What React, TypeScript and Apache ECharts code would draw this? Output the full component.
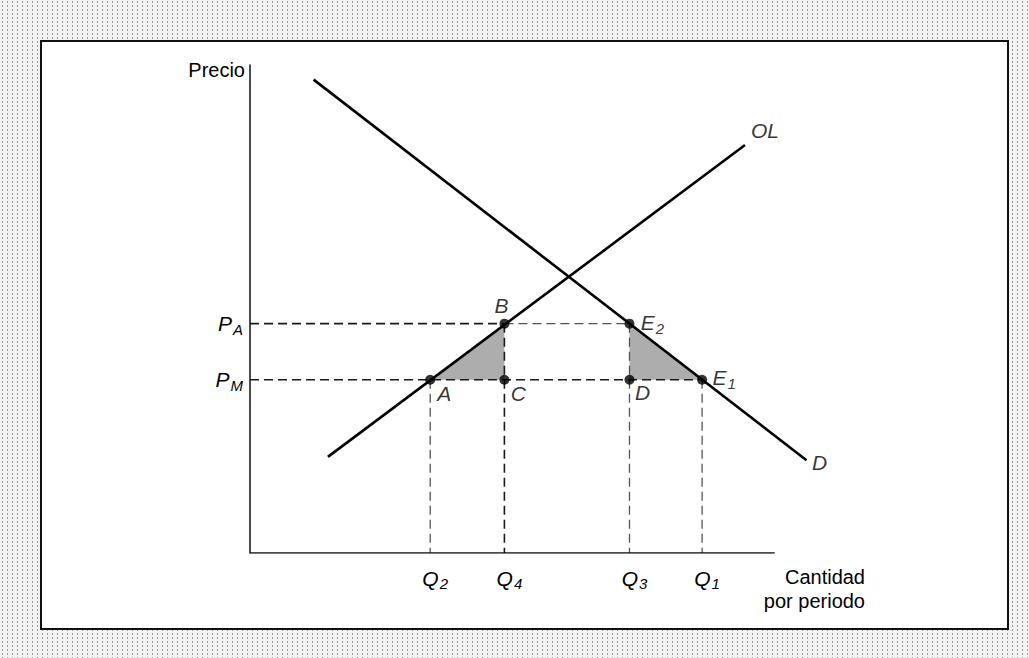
import { useEffect, useRef } from "react";
import * as echarts from "echarts";

// Quantity ticks (Q2, Q4, Q3, Q1) and price ticks (PM, PA)
const quantityTicks = [34, 48, 71.6, 85.3];
const quantitySubs = ["2", "4", "3", "1"];
const priceTicks = [35.5, 47];
const priceSubs = ["M", "A"];

// Curves
const demandCurve = [
  [12, 97],
  [105, 19],
];
const supplyCurve = [
  [14.7, 19.7],
  [93.4, 83.6],
];
const quantityAxisLine = [
  [0, 0],
  [99, 0],
];

// Marked points
const pointNames = ["A", "B", "C", "D", "E2", "E1"];
const pointQ = [34, 48, 48, 71.6, 71.6, 85.3];
const pointP = [35.5, 47, 35.5, 35.5, 47, 35.5];

// Shaded triangles
const triangleABC = [
  [34, 35.5],
  [48, 47],
  [48, 35.5],
];
const triangleE2DE1 = [
  [71.6, 47],
  [71.6, 35.5],
  [85.3, 35.5],
];

// Dashed guide segments
const darkGuides = [
  [[0, 47], [48, 47]],
  [[0, 35.5], [85.3, 35.5]],
  [[48, 47], [48, 0]],
];
const lightGuides = [
  [[48, 47], [71.6, 47]],
  [[34, 35.5], [34, 0]],
  [[71.6, 47], [71.6, 0]],
  [[85.3, 35.5], [85.3, 0]],
];

// Curve end labels
const curveLabelNames = ["OL", "D"];
const curveLabelAt = [supplyCurve[1], demandCurve[1]];

const FONT = "'Liberation Sans', Arial, Helvetica, sans-serif";

const richStyles = {
  m: { fontSize: 21, fontStyle: "italic", fontFamily: FONT, color: "#000" },
  s: {
    fontSize: 15,
    fontStyle: "italic",
    fontFamily: FONT,
    color: "#000",
    padding: [11, 0, 0, 1],
  },
};

function richLabel(name: string) {
  if (name.length > 1) return `{m|${name[0]}}{s|${name.slice(1)}}`;
  return `{m|${name}}`;
}

const pointLabelOffsets: Record<string, number[]> = {
  A: [14, 14],
  B: [-3, -18],
  C: [14, 14],
  D: [13, 13],
  E2: [23, -1],
  E1: [22, -2],
};
const curveLabelOffsets: Record<string, number[]> = {
  OL: [20, -15],
  D: [13, 2],
};

export default function App() {
  const ref = useRef<HTMLDivElement>(null);

  useEffect(() => {
    if (!ref.current) return;
    const chart = echarts.init(ref.current, null, { renderer: "svg" });

    const guideSeries = (segs: number[][][], color: string, width: number) =>
      segs.map((seg) => ({
        type: "line",
        data: seg,
        symbol: "none",
        silent: true,
        z: 3,
        lineStyle: { color, width, type: [9, 5] },
      }));

    const triangles = [triangleABC, triangleE2DE1];

    const option: any = {
      animation: false,
      grid: {
        left: 250,
        top: 65,
        width: 583,
        height: 488,
        containLabel: false,
        outerBoundsMode: "none",
      },
      xAxis: {
        type: "value",
        min: 0,
        max: 110,
        axisLine: { show: false },
        axisTick: { show: false },
        splitLine: { show: false },
        axisLabel: {
          customValues: quantityTicks,
          margin: 12,
          padding: [0, 0, 0, 10],
          formatter: (v: number) => {
            const i = quantityTicks.indexOf(v);
            return `{m|Q}{s|${quantitySubs[i]}}`;
          },
          rich: richStyles,
        },
      },
      yAxis: {
        type: "value",
        min: 0,
        max: 100,
        axisLine: { show: true, lineStyle: { color: "#111", width: 1.5 } },
        axisTick: { show: false },
        splitLine: { show: false },
        axisLabel: {
          customValues: priceTicks,
          margin: 7,
          formatter: (v: number) => {
            const i = priceTicks.indexOf(v);
            return `{m|P}{s|${priceSubs[i]}}`;
          },
          rich: richStyles,
        },
      },
      graphic: [
        {
          type: "text",
          style: {
            text: "Precio",
            x: 245,
            y: 70,
            align: "right",
            verticalAlign: "middle",
            font: `20px ${FONT}`,
            fill: "#000",
          },
        },
        {
          type: "text",
          style: {
            text: "Cantidad\npor periodo",
            x: 865,
            y: 565,
            align: "right",
            verticalAlign: "top",
            font: `20px ${FONT}`,
            lineHeight: 24,
            fill: "#000",
          },
        },
      ],
      series: [
        {
          type: "custom",
          silent: true,
          z: 1,
          data: triangles.map((t) => t[0]),
          renderItem: (params: any, api: any) => {
            const tri = triangles[params.dataIndex];
            return {
              type: "polygon",
              shape: { points: tri.map((p) => api.coord(p)) },
              style: { fill: "#adadad" },
            };
          },
        },
        ...guideSeries(darkGuides, "#1a1a1a", 1.6),
        ...guideSeries(lightGuides, "#555", 1.3),
        {
          type: "line",
          data: quantityAxisLine,
          symbol: "none",
          silent: true,
          lineStyle: { color: "#111", width: 1.5 },
        },
        {
          type: "line",
          data: demandCurve,
          symbol: "none",
          silent: true,
          z: 4,
          lineStyle: { color: "#000", width: 2.6 },
        },
        {
          type: "line",
          data: supplyCurve,
          symbol: "none",
          silent: true,
          z: 4,
          lineStyle: { color: "#000", width: 2.6 },
        },
        {
          type: "scatter",
          z: 5,
          silent: true,
          symbolSize: 10,
          itemStyle: { color: "#000" },
          data: pointNames.map((n, i) => ({
            value: [pointQ[i], pointP[i]],
            label: {
              show: true,
              position: "inside",
              offset: pointLabelOffsets[n],
              formatter: richLabel(n),
              rich: richStyles,
            },
          })),
        },
        {
          type: "scatter",
          z: 5,
          silent: true,
          symbolSize: 0,
          data: curveLabelNames.map((n, i) => ({
            value: curveLabelAt[i],
            label: {
              show: true,
              position: "inside",
              offset: curveLabelOffsets[n],
              formatter: `{m|${n}}`,
              rich: richStyles,
            },
          })),
        },
      ],
    };

    chart.setOption(option);
    return () => chart.dispose();
  }, []);

  return (
    <div
      style={{
        position: "fixed",
        left: 0,
        top: 0,
        width: 1029,
        height: 658,
        backgroundColor: "#f3f3f3",
        backgroundImage:
          "radial-gradient(circle, #9a9a9a 0.7px, rgba(0,0,0,0) 1px)",
        backgroundSize: "5px 4px",
        overflow: "hidden",
      }}
    >
      <div
        style={{
          position: "absolute",
          left: 40,
          top: 40,
          width: 965,
          height: 586,
          background: "#ffffff",
          border: "2px solid #111",
        }}
      />
      <div
        ref={ref}
        style={{ position: "absolute", left: 0, top: 0, width: 1029, height: 658 }}
      />
    </div>
  );
}
